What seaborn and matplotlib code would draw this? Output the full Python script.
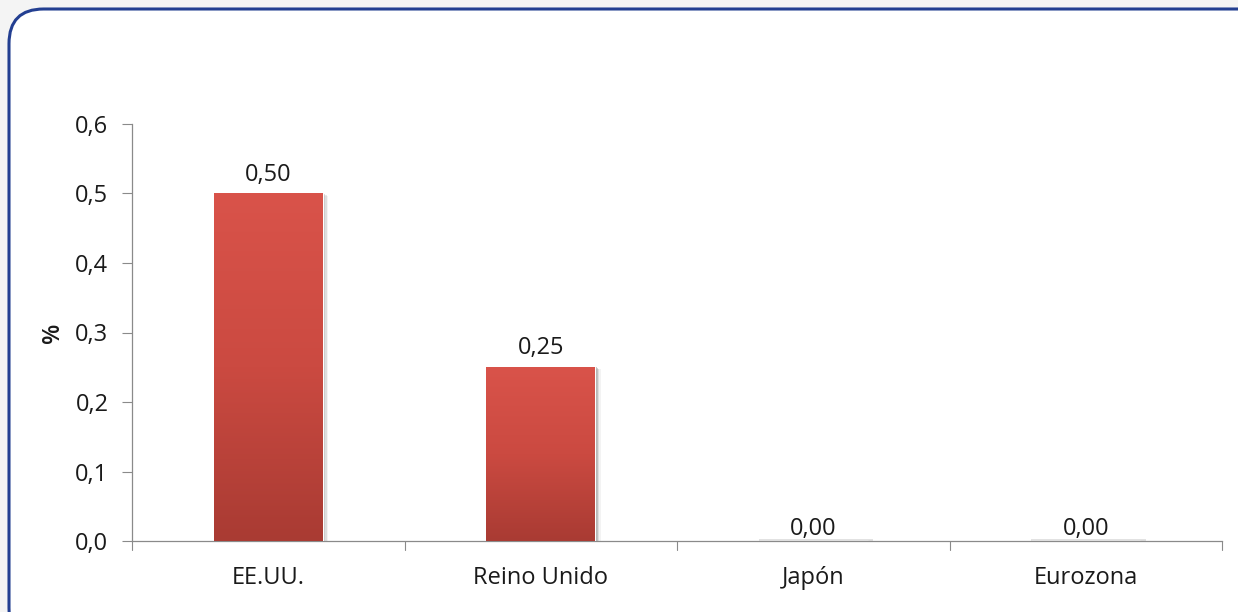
import numpy as np
import pandas as pd
import matplotlib
matplotlib.use("Agg")
import matplotlib.pyplot as plt
import seaborn as sns
from matplotlib.patches import FancyBboxPatch
from matplotlib.colors import LinearSegmentedColormap

categories = ["EE.UU.", "Reino Unido", "Japón", "Eurozona"]
values = [0.50, 0.25, 0.00, 0.00]
value_labels = ["0,50", "0,25", "0,00", "0,00"]
yticks = [0.0, 0.1, 0.2, 0.3, 0.4, 0.5, 0.6]
ytick_labels = ["0,0", "0,1", "0,2", "0,3", "0,4", "0,5", "0,6"]

sns.set_style("white")
plt.rcParams["font.family"] = ["Open Sans", "DejaVu Sans"]

FS = 17

fig = plt.figure(figsize=(12.38, 6.12), dpi=100)
fig.patch.set_facecolor("#f4f4f4")

# rounded frame
frame = FancyBboxPatch((9 / 1238, -0.05), 1.05, 1 - 9 / 612 + 0.05,
                       boxstyle="round,pad=0,rounding_size=0.028",
                       transform=fig.transFigure, facecolor="white",
                       edgecolor="#233f91", linewidth=2.2,
                       mutation_aspect=1238 / 612, zorder=-5)
fig.patches.append(frame)

ax = fig.add_axes([132 / 1238, 1 - 541 / 612, (1222 - 132) / 1238, (541 - 124) / 612])
ax.set_zorder(2)
ax.set_facecolor("none")

df = pd.DataFrame({"cat": categories, "val": values})
sns.barplot(data=df, x="cat", y="val", color="#cc4b41", width=0.4, ax=ax,
            saturation=1, zorder=3)

ax.set_xlim(-0.5, len(categories) - 0.5)
ax.set_ylim(0, 0.6)

grad = np.linspace(0, 1, 256).reshape(-1, 1)
cmap = LinearSegmentedColormap.from_list("g", ["#a93b33", "#cb4a41", "#d9534a"])
bars = list(ax.patches)
for p in bars:
    x0, y0 = p.get_x(), p.get_y()
    w, h = p.get_width(), p.get_height()
    if h > 0:
        for k, a in enumerate([0.5, 0.35, 0.2, 0.1]):
            ax.bar(x0 + w / 2 + 0.005 * (k + 1), h - 0.001 * k, width=w, bottom=0,
                   color="#8c8c8c", alpha=a, zorder=2, linewidth=0)
        im = ax.imshow(grad, extent=[x0, x0 + w, y0, y0 + h], origin="lower",
                       aspect="auto", cmap=cmap, zorder=4)
        im.set_clip_path(p)
    else:
        ax.bar(x0 + w / 2 + 0.01, 0.003, width=w + 0.02, color="#e2e2e2",
               zorder=2, linewidth=0)

ax.set_aspect("auto")
ax.set_xlim(-0.5, len(categories) - 0.5)
ax.set_ylim(0, 0.6)

for i, (v, lab) in enumerate(zip(values, value_labels)):
    gap = 5 if v > 0 else 0
    ax.annotate(lab, (i, v), xytext=(0, gap), textcoords="offset points",
                ha="center", va="bottom", fontsize=FS, color="#1a1a1a", zorder=5)

ax.set_yticks(yticks)
ax.set_yticklabels(ytick_labels, fontsize=FS, color="#1a1a1a")
ax.set_xticks(range(len(categories)))
ax.set_xticklabels(categories, fontsize=FS, color="#1a1a1a")
ax.tick_params(axis="x", length=0, pad=18)
ax.tick_params(axis="y", length=7, width=0.8, color="#8a8a8a", pad=10, left=True)
for b in np.arange(-0.5, len(categories), 1.0):
    ax.plot([b, b], [0, -0.013], color="#8a8a8a", lw=0.8, clip_on=False, zorder=5)

for s in ["top", "right"]:
    ax.spines[s].set_visible(False)
for s in ["left", "bottom"]:
    ax.spines[s].set_color("#8a8a8a")
    ax.spines[s].set_linewidth(0.9)

ax.set_xlabel("")
ax.set_ylabel("%", fontsize=FS, fontweight="semibold", color="#1a1a1a", labelpad=7)

fig.savefig("out.png", dpi=100, facecolor=fig.get_facecolor())
